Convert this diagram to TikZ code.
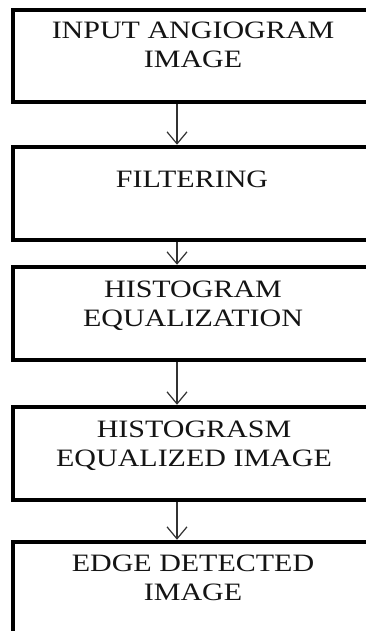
\documentclass[tikz,border=0pt]{standalone}
\usepackage{fontspec}
\setmainfont{Liberation Serif}
\newfontfamily\boxfont[FakeStretch=1.2]{Liberation Serif}
\usetikzlibrary{arrows.meta}
\definecolor{txt}{HTML}{141414}
\tikzset{
  stagebox/.style={draw=black, line width=4.5pt, rectangle, minimum width=360pt, inner sep=0pt},
  stagetext/.style={anchor=north, inner sep=0pt, align=center, text=txt,
    font=\boxfont\fontsize{25pt}{29pt}\selectfont},
  flowarrow/.style={draw=black!80, line width=1.2pt, -{Straight Barb[length=12pt,width=20pt,line width=1.2pt]}}
}
\begin{document}
\begin{tikzpicture}[x=1pt,y=-1pt]
\useasboundingbox (0,0) rectangle (366,631);
\clip (0,0) rectangle (366,631);
\node[stagebox, minimum height=92pt] (b1) at (193,56) {};
\node[stagebox, minimum height=93pt] (b2) at (193,193.5) {};
\node[stagebox, minimum height=93pt] (b3) at (193,313.5) {};
\node[stagebox, minimum height=93pt] (b4) at (193,453.5) {};
\node[stagebox, minimum height=93pt] (b5) at (193,588.5) {};
\node[stagetext] (t1) at (193,21.6) {INPUT ANGIOGRAM\\IMAGE};
\node[stagetext] (t2) at (192,170.6) {FILTERING};
\node[stagetext] (t3) at (193,280.6) {HISTOGRAM\\EQUALIZATION};
\node[stagetext] (t4) at (194,420.6) {HISTOGRASM\\EQUALIZED IMAGE};
\node[stagetext] (t5) at (193,554.6) {EDGE DETECTED\\IMAGE};
\draw[flowarrow] ([xshift=-16pt]b1.south) -- ([xshift=-16pt]b2.north);
\draw[flowarrow] ([xshift=-16pt]b2.south) -- ([xshift=-16pt]b3.north);
\draw[flowarrow] ([xshift=-16pt]b3.south) -- ([xshift=-16pt]b4.north);
\draw[flowarrow] ([xshift=-16pt]b4.south) -- ([xshift=-16pt]b5.north);
\end{tikzpicture}
\end{document}
